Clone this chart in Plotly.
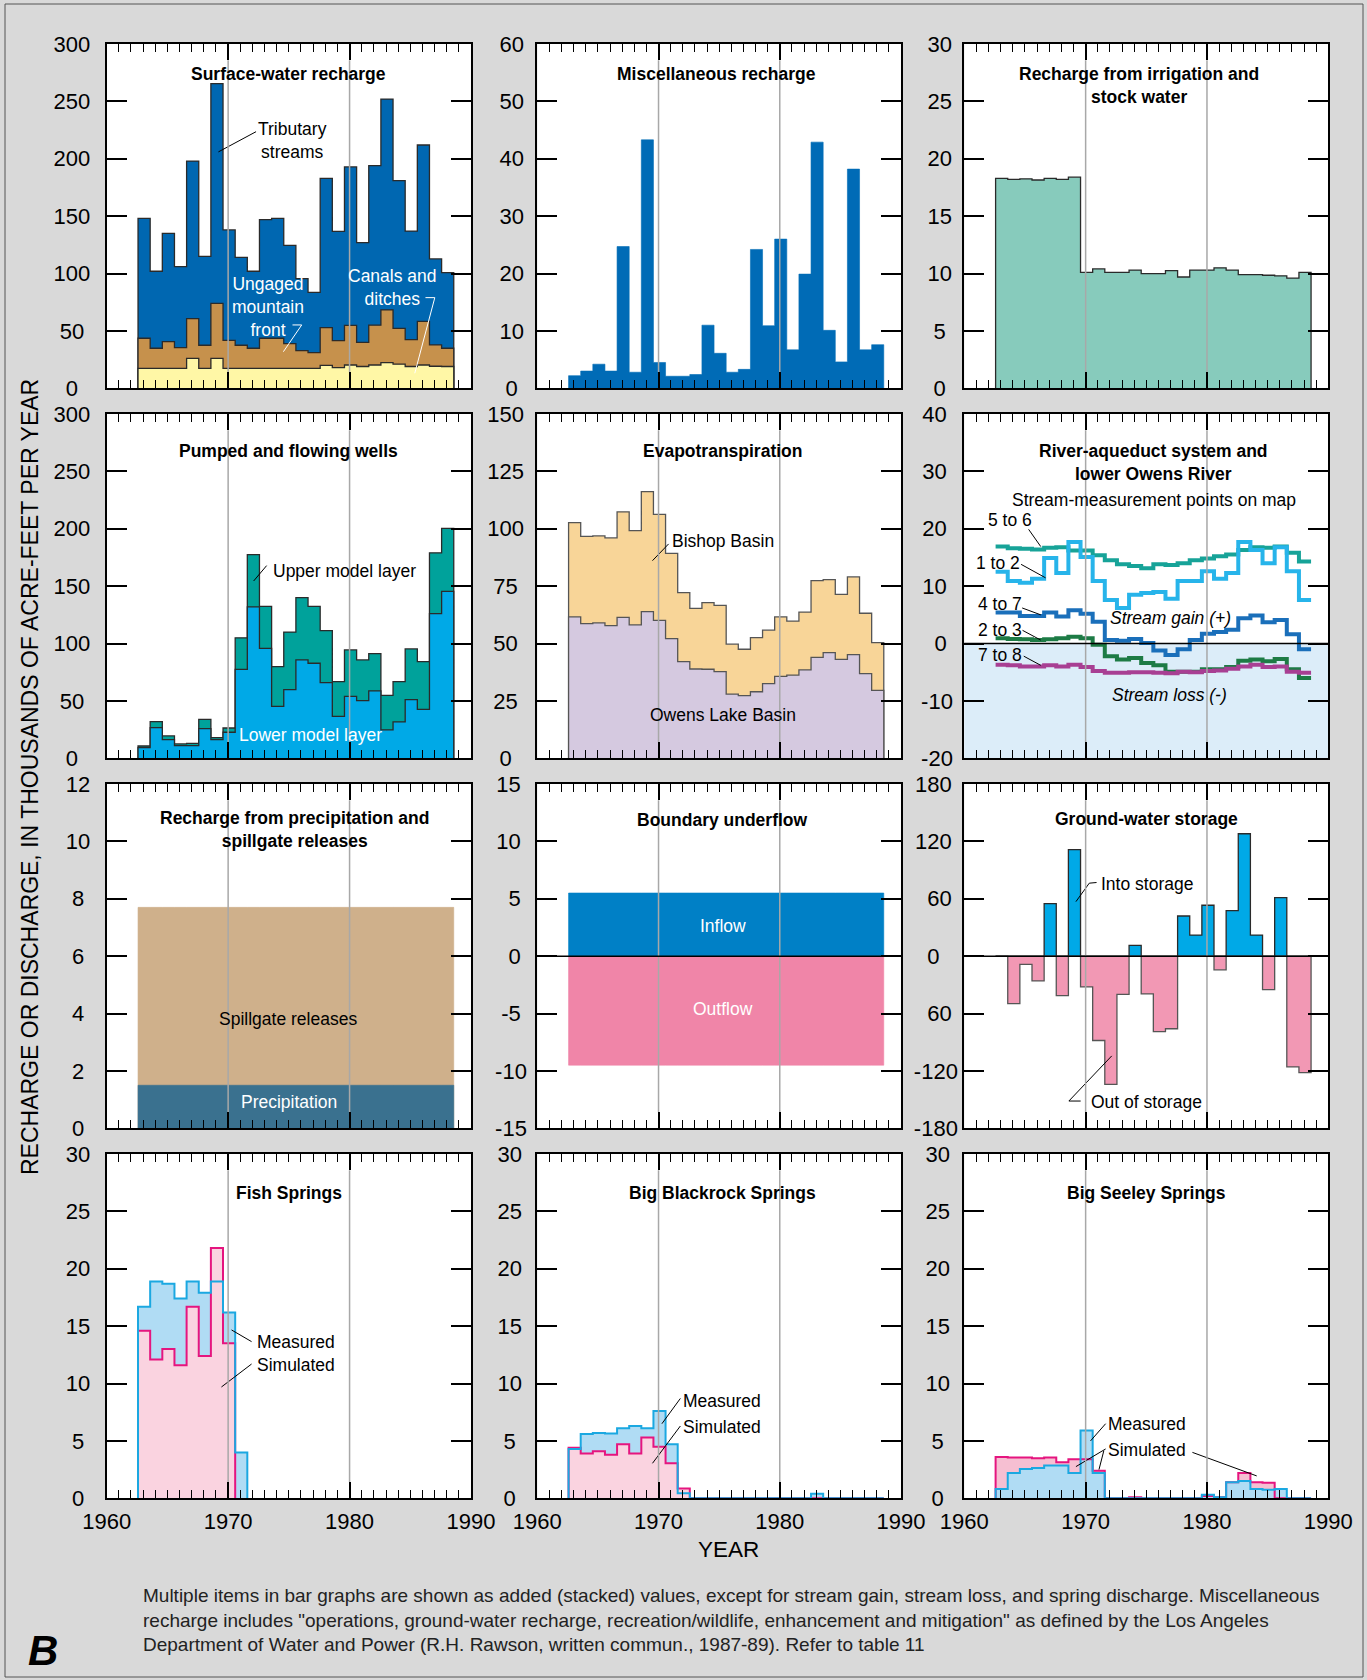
import plotly.graph_objects as go

W, H = 1367, 1680
FONT = "Liberation Sans, Arial, Helvetica, sans-serif"
NARROW = "Liberation Sans Narrow, Arial Narrow, Liberation Sans, Arial, sans-serif"

# ---------------- DATA ----------------
YEARS = [1963, 1964, 1965, 1966, 1967, 1968, 1969, 1970, 1971, 1972, 1973, 1974, 1975,
         1976, 1977, 1978, 1979, 1980, 1981, 1982, 1983, 1984, 1985, 1986, 1987, 1988]

# Surface-water recharge (stacked)
canals_ditches = [17.4, 17.4, 17.4, 17.4, 26.0, 17.4, 26.0, 17.4, 17.4, 17.4, 17.4, 17.4, 17.4,
                  17.4, 17.4, 20.0, 18.0, 20.3, 19.0, 20.3, 22.4, 21.0, 19.0, 20.3, 19.2, 19.0]
ungaged_mountain_front = [26.2, 17.5, 23.3, 18.0, 34.7, 20.1, 48.0, 24.4, 20.1, 17.5, 26.2, 26.2, 21.5,
                          15.4, 13.6, 32.9, 23.5, 34.6, 21.0, 34.7, 45.9, 31.3, 23.4, 38.1, 18.6, 15.9]
tributary_streams = [104.4, 67.1, 94.3, 70.6, 137.3, 77.5, 191.5, 96.2, 76.5, 67.1, 103.4, 104.4, 85.7,
                     62.7, 52.6, 130.1, 95.3, 138.0, 87.0, 139.0, 183.7, 128.7, 94.6, 153.6, 74.9, 65.9]

# Miscellaneous recharge
misc_recharge = [2.2, 3.0, 4.2, 3.0, 24.7, 2.8, 43.3, 4.5, 2.1, 2.1, 2.4, 11.0, 6.1,
                 2.8, 3.3, 24.2, 10.9, 26.0, 6.7, 19.9, 42.9, 10.1, 4.6, 38.2, 6.7, 7.6]

# Recharge from irrigation and stock water
irrigation_stock = [18.3, 18.2, 18.25, 18.15, 18.3, 18.2, 18.4, 10.1, 10.4, 10.1, 10.1, 10.3, 10.0,
                    10.0, 10.25, 9.7, 10.3, 10.3, 10.5, 10.3, 9.9, 9.9, 9.85, 9.8, 9.6, 10.1]

# Pumped and flowing wells (stacked)
wells_lower = [9.3, 26.7, 16.3, 11.0, 11.0, 25.8, 16.3, 22.7, 77.5, 131.9, 95.8, 45.3, 59.8,
               85.7, 82.8, 65.9, 36.6, 54.0, 50.2, 58.7, 24.7, 31.7, 51.1, 42.7, 126.0, 145.5]
wells_upper = [1.4, 5.3, 3.2, 1.5, 2.0, 8.2, 1.7, 3.7, 27.5, 45.6, 36.6, 34.6, 50.2,
               54.3, 49.6, 45.3, 30.2, 40.4, 35.5, 32.5, 30.2, 35.1, 44.2, 41.5, 53.0, 54.9]

# Evapotranspiration (stacked)
et_owens_lake = [61.6, 58.7, 59.0, 57.8, 61.4, 58.1, 63.9, 60.1, 52.1, 42.1, 38.9, 38.8, 37.8,
                 28.0, 27.3, 29.0, 32.5, 35.7, 36.2, 38.5, 44.0, 46.0, 43.1, 45.2, 36.9, 29.6]
et_bishop = [41.1, 38.0, 37.9, 38.2, 46.0, 41.1, 52.3, 46.2, 37.2, 30.1, 26.4, 29.0, 28.8,
             21.7, 20.2, 23.6, 23.3, 25.9, 23.6, 25.2, 33.4, 31.8, 28.3, 33.8, 26.3, 20.8]

# River-aqueduct system (stream gain / loss)
reach_5_6 = [16.9, 16.6, 16.5, 16.4, 16.7, 16.8, 16.2, 16.2, 15.4, 14.5, 13.8, 13.5, 13.1,
             13.8, 13.7, 14.0, 14.5, 14.8, 15.2, 15.5, 16.3, 16.8, 16.7, 16.9, 15.8, 14.3]
reach_1_2 = [12.5, 10.9, 10.6, 11.3, 14.9, 12.3, 17.7, 15.1, 10.9, 7.6, 6.2, 8.5, 8.8,
             9.0, 7.8, 10.9, 10.9, 12.6, 11.3, 12.3, 17.7, 16.3, 14.0, 16.8, 12.6, 7.6]
reach_4_7 = [5.4, 5.4, 4.8, 4.8, 5.4, 4.7, 5.8, 5.2, 3.8, 0.6, 0.5, 0.8, 0.1,
             -1.2, -2.0, -1.0, 0.6, 1.7, 2.0, 2.4, 4.4, 4.9, 3.7, 4.1, 1.6, -1.0]
reach_2_3 = [0.9, 0.8, 0.75, 0.6, 0.75, 0.9, 1.2, 0.9, -0.2, -2.2, -2.8, -2.5, -3.4,
             -3.8, -4.9, -4.9, -4.9, -4.5, -4.5, -4.1, -3.0, -2.8, -3.1, -2.7, -4.5, -6.0]
reach_7_8 = [-3.7, -3.8, -4.0, -4.0, -3.8, -4.0, -3.7, -4.1, -4.8, -5.1, -5.1, -5.0, -5.0,
             -5.1, -5.2, -4.9, -5.0, -4.8, -4.7, -4.4, -4.0, -3.7, -4.1, -4.0, -4.9, -5.1]

# Recharge from precipitation and spillgate releases (stacked)
precipitation = [1.5, 1.5, 1.5, 1.5, 1.5, 1.5, 1.5, 1.5, 1.5, 1.5, 1.5, 1.5, 1.5,
                 1.5, 1.5, 1.5, 1.5, 1.5, 1.5, 1.5, 1.5, 1.5, 1.5, 1.5, 1.5, 1.5]
spillgate = [6.2, 6.2, 6.2, 6.2, 6.2, 6.2, 6.2, 6.2, 6.2, 6.2, 6.2, 6.2, 6.2,
             6.2, 6.2, 6.2, 6.2, 6.2, 6.2, 6.2, 6.2, 6.2, 6.2, 6.2, 6.2, 6.2]

# Boundary underflow
inflow = [5.5, 5.5, 5.5, 5.5, 5.5, 5.5, 5.5, 5.5, 5.5, 5.5, 5.5, 5.5, 5.5,
          5.5, 5.5, 5.5, 5.5, 5.5, 5.5, 5.5, 5.5, 5.5, 5.5, 5.5, 5.5, 5.5]
outflow = [-9.5, -9.5, -9.5, -9.5, -9.5, -9.5, -9.5, -9.5, -9.5, -9.5, -9.5, -9.5, -9.5,
           -9.5, -9.5, -9.5, -9.5, -9.5, -9.5, -9.5, -9.5, -9.5, -9.5, -9.5, -9.5, -9.5]

# Ground-water storage change
storage_change = [0.0, -49.7, -8.7, -25.9, 54.9, -41.3, 111.3, -32.2, -88.2, -134.0, -39.9, 11.2, -39.5,
                  -79.0, -75.9, 42.0, 22.0, 53.2, -14.3, 47.6, 128.0, 22.0, -35.0, 61.2, -115.8, -121.8]

# Springs
FISH_YEARS = [1963, 1964, 1965, 1966, 1967, 1968, 1969, 1970, 1971]
fish_measured = [16.7, 18.9, 18.7, 17.4, 18.9, 17.9, 18.9, 16.2, 4.0]
FISH_SIM_YEARS = [1963, 1964, 1965, 1966, 1967, 1968, 1969, 1970]
fish_simulated = [14.6, 12.1, 13.0, 11.6, 16.7, 12.4, 21.8, 13.5]

blackrock_measured = [4.3, 5.6, 5.7, 5.65, 6.1, 6.3, 6.1, 7.6, 4.7, 0.45, 0.0, 0.0, 0.0,
                      0.0, 0.0, 0.0, 0.0, 0.0, 0.0, 0.0, 0.4, 0.0, 0.0, 0.0, 0.0, 0.0]
blackrock_simulated = [4.4, 3.9, 4.1, 3.8, 4.7, 3.9, 5.3, 4.5, 3.05, 0.85, 0.0, 0.0, 0.0,
                       0.0, 0.0, 0.0, 0.0, 0.0, 0.0, 0.0, 0.0, 0.0, 0.0, 0.0, 0.0, 0.0]

seeley_measured = [0.8, 2.2, 2.55, 2.65, 2.85, 2.85, 2.2, 5.9, 2.2, 0.0, 0.0, 0.0, 0.0,
                   0.0, 0.0, 0.0, 0.0, 0.3, 0.1, 1.4, 1.5, 0.8, 0.75, 0.8, 0.0, 0.0]
seeley_simulated = [3.6, 3.55, 3.55, 3.5, 3.55, 3.15, 3.4, 3.4, 2.4, 0.0, 0.0, 0.1, 0.0,
                    0.0, 0.0, 0.0, 0.0, 0.2, 0.1, 1.4, 2.2, 1.4, 1.35, 0.0, 0.0, 0.0]

# Axis ranges, tick steps and tick labels
X_TICKS = [1960, 1970, 1980, 1990]
Y_CFG = [
    dict(range=[0, 300], dtick=50), dict(range=[0, 60], dtick=10), dict(range=[0, 30], dtick=5),
    dict(range=[0, 300], dtick=50), dict(range=[0, 150], dtick=25), dict(range=[-20, 40], dtick=10),
    dict(range=[0, 12], dtick=2), dict(range=[-15, 15], dtick=5), dict(range=[-180, 180], dtick=60),
    dict(range=[0, 30], dtick=5), dict(range=[0, 30], dtick=5), dict(range=[0, 30], dtick=5),
]
# the original prints the -60 storage tick without its minus sign
STORAGE_TICKTEXT = ["-180", "-120", "60", "0", "60", "120", "180"]

# ---------------- LAYOUT GEOMETRY ----------------
COLS = [(106.7, 471.0), (537.3, 901.0), (964.3, 1328.3)]
ROWS = [(44.0, 388.3), (414.0, 758.3), (784.0, 1128.3), (1154.0, 1498.3)]
LABEL_STANDOFF = [10, 7, 6, 10, 7, 5, 10, 4, 0, 10, 9, 8]
OFF = -0.42  # bar edge offset relative to year

OUTLINE = "#2a2a2a"
TXT = 17.5

fig = go.Figure()
shapes = []
annotations = []


def refs(i):
    n = "" if i == 0 else str(i + 1)
    return "x" + n, "y" + n


def step_xy(years, vals, close=True):
    xs, ys = [], []
    if close:
        xs.append(years[0] + OFF)
        ys.append(0)
    for yr, v in zip(years, vals):
        xs.append(yr + OFF)
        ys.append(v)
    xs.append(years[-1] + 1 + OFF)
    ys.append(vals[-1])
    if close:
        xs.append(years[-1] + 1 + OFF)
        ys.append(0)
    return xs, ys


def area(i, years, vals, fill, line_color=None, line_width=1.3):
    xr, yr = refs(i)
    xs, ys = step_xy(years, vals)
    if line_color is None:
        line = dict(shape="hv", color=fill, width=0.6)
    else:
        line = dict(shape="hv", color=line_color, width=line_width)
    fig.add_trace(go.Scatter(x=xs, y=ys, xaxis=xr, yaxis=yr, mode="lines", line=line,
                             fill="tozeroy", fillcolor=fill, hoverinfo="skip", showlegend=False))


def step_line(i, years, vals, color, width, close=True):
    xr, yr = refs(i)
    xs, ys = step_xy(years, vals, close=close)
    fig.add_trace(go.Scatter(x=xs, y=ys, xaxis=xr, yaxis=yr, mode="lines",
                             line=dict(shape="hv", color=color, width=width),
                             hoverinfo="skip", showlegend=False))


def cum(*arrs):
    out = []
    run = [0.0] * len(arrs[0])
    for a in arrs:
        run = [r + v for r, v in zip(run, a)]
        out.append(run)
    return out


def text(i, x, y, s, size=TXT, color="black", bold=False, italic=False, anchor="center"):
    xr, yr = refs(i)
    if bold:
        s = "<b>" + s + "</b>"
    if italic:
        s = "<i>" + s + "</i>"
    annotations.append(dict(x=x, y=y, xref=xr, yref=yr, text=s, showarrow=False,
                            xanchor=anchor, yanchor="middle", align=anchor if anchor != "center" else "center",
                            font=dict(family=FONT, size=size, color=color)))


def leader(i, pts, color="black", width=1):
    xr, yr = refs(i)
    path = "M " + " L ".join(f"{px},{py}" for px, py in pts)
    shapes.append(dict(type="path", path=path, xref=xr, yref=yr, layer="above",
                       line=dict(color=color, width=width)))


def label_width(s):
    return sum(0.6 if ch == "-" else 1.0 for ch in s)


def centered(labels):
    """Pad right-aligned tick labels so that they appear centred in their column."""
    wmax = max(label_width(s) for s in labels)
    out = []
    for s in labels:
        pad = (wmax - label_width(s)) / 2.0
        n_fig = int(pad)
        rest = pad - n_fig
        p = "\u2007" * n_fig + ("\u2008" if rest >= 0.25 else "")
        out.append(s + p)
    return out


# ---- Panel 1: Surface-water recharge
c1, c2, c3 = cum(canals_ditches, ungaged_mountain_front, tributary_streams)
area(0, YEARS, c3, "#0067b1", OUTLINE)
area(0, YEARS, c2, "#c6914c", OUTLINE)
area(0, YEARS, c1, "#fff7a6", OUTLINE)
text(0, 1975.0, 274, "Surface-water recharge", bold=True)
text(0, 1975.3, 215.5, "Tributary<br>streams")
leader(0, [(1972.3, 223.6), (1969.2, 206)])
text(0, 1973.3, 70.9, "Ungaged<br>mountain<br>front", color="white")
leader(0, [(1975.3, 55.2), (1976.06, 55.2), (1974.55, 31.9)], color="white")
text(0, 1983.5, 87.4, "Canals and<br>ditches", color="white")
leader(0, [(1986.25, 79.0), (1987.02, 79.0), (1985.37, 13.1)], color="white")

# ---- Panel 2: Miscellaneous recharge
area(1, YEARS, misc_recharge, "#006bb6")
text(1, 1974.8, 54.8, "Miscellaneous recharge", bold=True)

# ---- Panel 3: Irrigation and stock water
area(2, YEARS, irrigation_stock, "#87cbbc", OUTLINE)
text(2, 1974.4, 26.4, "Recharge from irrigation and<br>stock water", bold=True)

# ---- Panel 4: Pumped and flowing wells
w1, w2 = cum(wells_lower, wells_upper)
area(3, YEARS, w2, "#00a29b", OUTLINE)
area(3, YEARS, w1, "#00a9e7", OUTLINE)
text(3, 1975.0, 267.8, "Pumped and flowing wells", bold=True)
text(3, 1973.5, 163.5, "Upper model layer", anchor="left")
leader(3, [(1973.17, 167.9), (1972.1, 154.5)])
text(3, 1970.74, 20.3, "Lower model layer", color="white", anchor="left")

# ---- Panel 5: Evapotranspiration
e1, e2 = cum(et_owens_lake, et_bishop)
area(4, YEARS, e2, "#f8d598", "#555555")
area(4, YEARS, e1, "#d5c9e0", "#555555")
text(4, 1975.3, 133.9, "Evapotranspiration", bold=True)
text(4, 1970.96, 94.5, "Bishop Basin", anchor="left")
leader(4, [(1970.83, 93.4), (1969.5, 86.1)])
text(4, 1975.3, 18.9, "Owens Lake Basin")

# ---- Panel 6: River-aqueduct system
shapes.append(dict(type="rect", xref="x6 domain", yref="y6", x0=0, x1=1, y0=-20, y1=0,
                   fillcolor="#dcedf9", line=dict(width=0), layer="below"))
step_line(5, YEARS, reach_5_6, "#17a398", 4, close=False)
step_line(5, YEARS, reach_1_2, "#27b4ea", 4, close=False)
step_line(5, YEARS, reach_4_7, "#1a6fba", 4, close=False)
step_line(5, YEARS, reach_2_3, "#1d7b45", 4, close=False)
step_line(5, YEARS, reach_7_8, "#a83f93", 4, close=False)
text(5, 1975.6, 31.5, "River-aqueduct system and<br>lower Owens River", bold=True)
text(5, 1975.6, 25.0, "Stream-measurement points on map")
text(5, 1961.8, 21.6, "5 to 6", anchor="left")
leader(5, [(1965.3, 19.9), (1966.3, 16.9)])
text(5, 1960.8, 14.0, "1 to 2", anchor="left")
leader(5, [(1964.68, 13.8), (1966.7, 11.45)])
text(5, 1961.0, 6.9, "4 to 7", anchor="left")
leader(5, [(1964.77, 6.2), (1966.3, 5.0)])
text(5, 1961.0, 2.4, "2 to 3", anchor="left")
leader(5, [(1964.8, 2.3), (1966.3, 0.6)])
text(5, 1961.0, -2.0, "7 to 8", anchor="left")
leader(5, [(1964.9, -2.2), (1966.3, -3.8)])
text(5, 1977.0, 4.4, "Stream gain (+)", italic=True)
text(5, 1976.9, -8.9, "Stream loss (-)", italic=True)

# ---- Panel 7: Precipitation and spillgate
p1, p2 = cum(precipitation, spillgate)
area(6, YEARS, p2, "#cfb08b")
area(6, YEARS, p1, "#3a718f")
text(6, 1975.5, 10.4, "Recharge from precipitation and<br>spillgate releases", bold=True)
text(6, 1974.9, 3.81, "Spillgate releases")
text(6, 1975.04, 0.9, "Precipitation", color="white")

# ---- Panel 8: Boundary underflow
area(7, YEARS, inflow, "#0080c6")
area(7, YEARS, outflow, "#f085a8")
text(7, 1975.3, 11.9, "Boundary underflow", bold=True)
text(7, 1975.3, 2.6, "Inflow", color="white")
text(7, 1975.3, -4.6, "Outflow", color="white")

# ---- Panel 9: Ground-water storage
into_storage = [v if v > 0 else 0.0 for v in storage_change]
out_storage = [v if v < 0 else 0.0 for v in storage_change]
area(8, YEARS, into_storage, "#00a9e7", OUTLINE)
area(8, YEARS, out_storage, "#f298b4", "#555555")
text(8, 1975.0, 143.5, "Ground-water storage", bold=True)
text(8, 1971.1, 75.9, "Into storage", anchor="left")
leader(8, [(1970.9, 77), (1970.3, 76.3), (1969.2, 57)])
text(8, 1970.3, -153, "Out of storage", anchor="left")
leader(8, [(1969.59, -151.5), (1968.62, -151.5), (1972.15, -104.3)])

# ---- Springs
MEAS_LINE, MEAS_FILL = "#1ba8e1", "#b0dcf4"
SIM_LINE, SIM_FILL = "#e5157f", "#fad3e0"

# Fish Springs
area(9, FISH_YEARS, fish_measured, MEAS_FILL, MEAS_FILL, 0.5)
area(9, FISH_SIM_YEARS, fish_simulated, SIM_FILL, SIM_FILL, 0.5)
step_line(9, FISH_SIM_YEARS, fish_simulated, SIM_LINE, 2)
step_line(9, FISH_YEARS, fish_measured, MEAS_LINE, 2)
text(9, 1975.0, 26.6, "Fish Springs", bold=True)
text(9, 1972.2, 13.6, "Measured", anchor="left")
text(9, 1972.2, 11.6, "Simulated", anchor="left")
leader(9, [(1971.93, 13.65), (1970.28, 14.67)])
leader(9, [(1971.93, 11.7), (1969.45, 9.7)])

# Big Blackrock Springs
area(10, YEARS, blackrock_measured, MEAS_FILL, MEAS_FILL, 0.5)
area(10, YEARS, blackrock_simulated, SIM_FILL, SIM_FILL, 0.5)
step_line(10, YEARS, blackrock_simulated, SIM_LINE, 2)
step_line(10, YEARS, blackrock_measured, MEAS_LINE, 2)
text(10, 1975.3, 26.6, "Big Blackrock Springs", bold=True)
text(10, 1971.85, 8.5, "Measured", anchor="left")
text(10, 1971.85, 6.2, "Simulated", anchor="left")
leader(10, [(1971.8, 8.7), (1970.28, 6.5)])
leader(10, [(1971.8, 6.3), (1969.5, 3.05)])

# Big Seeley Springs
area(11, YEARS, seeley_simulated, "#f6bfd2", "#f6bfd2", 0.5)
area(11, YEARS, seeley_measured, MEAS_FILL, MEAS_FILL, 0.5)
step_line(11, YEARS, seeley_simulated, SIM_LINE, 2)
step_line(11, YEARS, seeley_measured, MEAS_LINE, 2)
text(11, 1975.0, 26.6, "Big Seeley Springs", bold=True)
text(11, 1971.7, 6.5, "Measured", anchor="left")
text(11, 1971.7, 4.2, "Simulated", anchor="left")
leader(11, [(1971.65, 6.5), (1970.4, 5.0)])
leader(11, [(1971.65, 4.3), (1969.2, 2.76)])
leader(11, [(1971.5, 4.15), (1971.1, 2.5)])
leader(11, [(1978.8, 4.0), (1984.1, 1.95)])

# ---------------- AXES ----------------
layout_axes = {}
for i in range(12):
    r, c = divmod(i, 3)
    x0, x1 = COLS[c]
    y0, y1 = ROWS[r]
    xr, yr = refs(i)
    n = "" if i == 0 else str(i + 1)
    layout_axes["xaxis" + n] = dict(
        domain=[x0 / W, x1 / W], range=[1960, 1990], anchor=yr, automargin=False,
        tickmode="array", tickvals=X_TICKS, ticks="inside", ticklen=16, tickwidth=1.5,
        tickcolor="black", showline=True, linecolor="black", linewidth=2, mirror="allticks",
        showgrid=False, zeroline=False, showticklabels=(r == 3), ticklabelstandoff=2,
        tickfont=dict(family=FONT, size=22, color="black"),
        minor=dict(ticks="inside", ticklen=8, tickwidth=1.2, tickcolor="black",
                   tickmode="linear", tick0=1960, dtick=1, showgrid=False),
        fixedrange=True,
    )
    cfg = Y_CFG[i]
    lo, hi = cfg["range"]
    tvals = list(range(lo, hi + cfg["dtick"], cfg["dtick"]))
    ttext = STORAGE_TICKTEXT if i == 8 else [str(v) for v in tvals]
    layout_axes["yaxis" + n] = dict(
        domain=[1 - y1 / H, 1 - y0 / H], range=cfg["range"], anchor=xr, automargin=False,
        tickmode="array", tickvals=tvals, ticktext=centered(ttext),
        ticks="inside", ticklen=20, tickwidth=1.5, tickcolor="black",
        showline=True, linecolor="black", linewidth=2, mirror="allticks",
        showgrid=False, zeroline=False, ticklabelstandoff=LABEL_STANDOFF[i],
        tickfont=dict(family=FONT, size=22, color="black"), fixedrange=True,
    )
    # decade reference lines (over the fills)
    for xv in (1970, 1980):
        shapes.append(dict(type="line", xref=xr, yref=yr + " domain", x0=xv, x1=xv, y0=0.047, y1=0.953,
                           line=dict(color="#a8a8a8", width=1.5), layer="above"))
    if i in (5, 7, 8):
        shapes.append(dict(type="line", xref=xr + " domain", yref=yr, x0=0, x1=1, y0=0, y1=0,
                           line=dict(color="black", width=1.5), layer="above"))

# outer frame
shapes.append(dict(type="rect", xref="paper", yref="paper", x0=5 / W, x1=1363 / W,
                   y0=1 - 1677 / H, y1=1 - 4 / H, line=dict(color="#555555", width=1), layer="below"))

# global texts
annotations.append(dict(xref="paper", yref="paper", x=30 / W, y=1 - 777 / H, textangle=-90,
                        text="RECHARGE OR DISCHARGE, IN THOUSANDS OF ACRE-FEET PER YEAR",
                        showarrow=False, xanchor="center", yanchor="middle",
                        font=dict(family=FONT, size=23, color="black")))
annotations.append(dict(xref="paper", yref="paper", x=728 / W, y=1 - 1549 / H, text="YEAR",
                        showarrow=False, xanchor="center", yanchor="middle",
                        font=dict(family=FONT, size=22.5, color="black")))
annotations.append(dict(xref="paper", yref="paper", x=141 / W, y=1 - 1620 / H,
                        text=("Multiple items in bar graphs are shown as added (stacked) values, except for stream gain, "
                              "stream loss, and spring discharge. Miscellaneous<br>recharge includes \"operations, "
                              "ground-water recharge, recreation/wildlife, enhancement and mitigation\" as defined by "
                              "the Los Angeles<br>Department of Water and Power (R.H. Rawson, written commun., 1987-89). "
                              "Refer to table 11"),
                        showarrow=False, xanchor="left", yanchor="middle", align="left",
                        font=dict(family=NARROW, size=19, color="#222222")))
annotations.append(dict(xref="paper", yref="paper", x=43 / W, y=1 - 1650 / H, text="<b><i>B</i></b>",
                        showarrow=False, xanchor="center", yanchor="middle",
                        font=dict(family=FONT, size=42, color="black")))

fig.update_layout(
    width=W, height=H, margin=dict(l=0, r=0, t=0, b=0, pad=0, autoexpand=False),
    paper_bgcolor="#d9d9d9", plot_bgcolor="white",
    font=dict(family=FONT, color="black"),
    showlegend=False, shapes=shapes, annotations=annotations,
    **layout_axes,
)

fig.write_html("out.html", include_plotlyjs=True, full_html=True,
               config={"displayModeBar": False},
               post_script="document.body.style.margin='0';document.body.style.overflow='hidden';")
